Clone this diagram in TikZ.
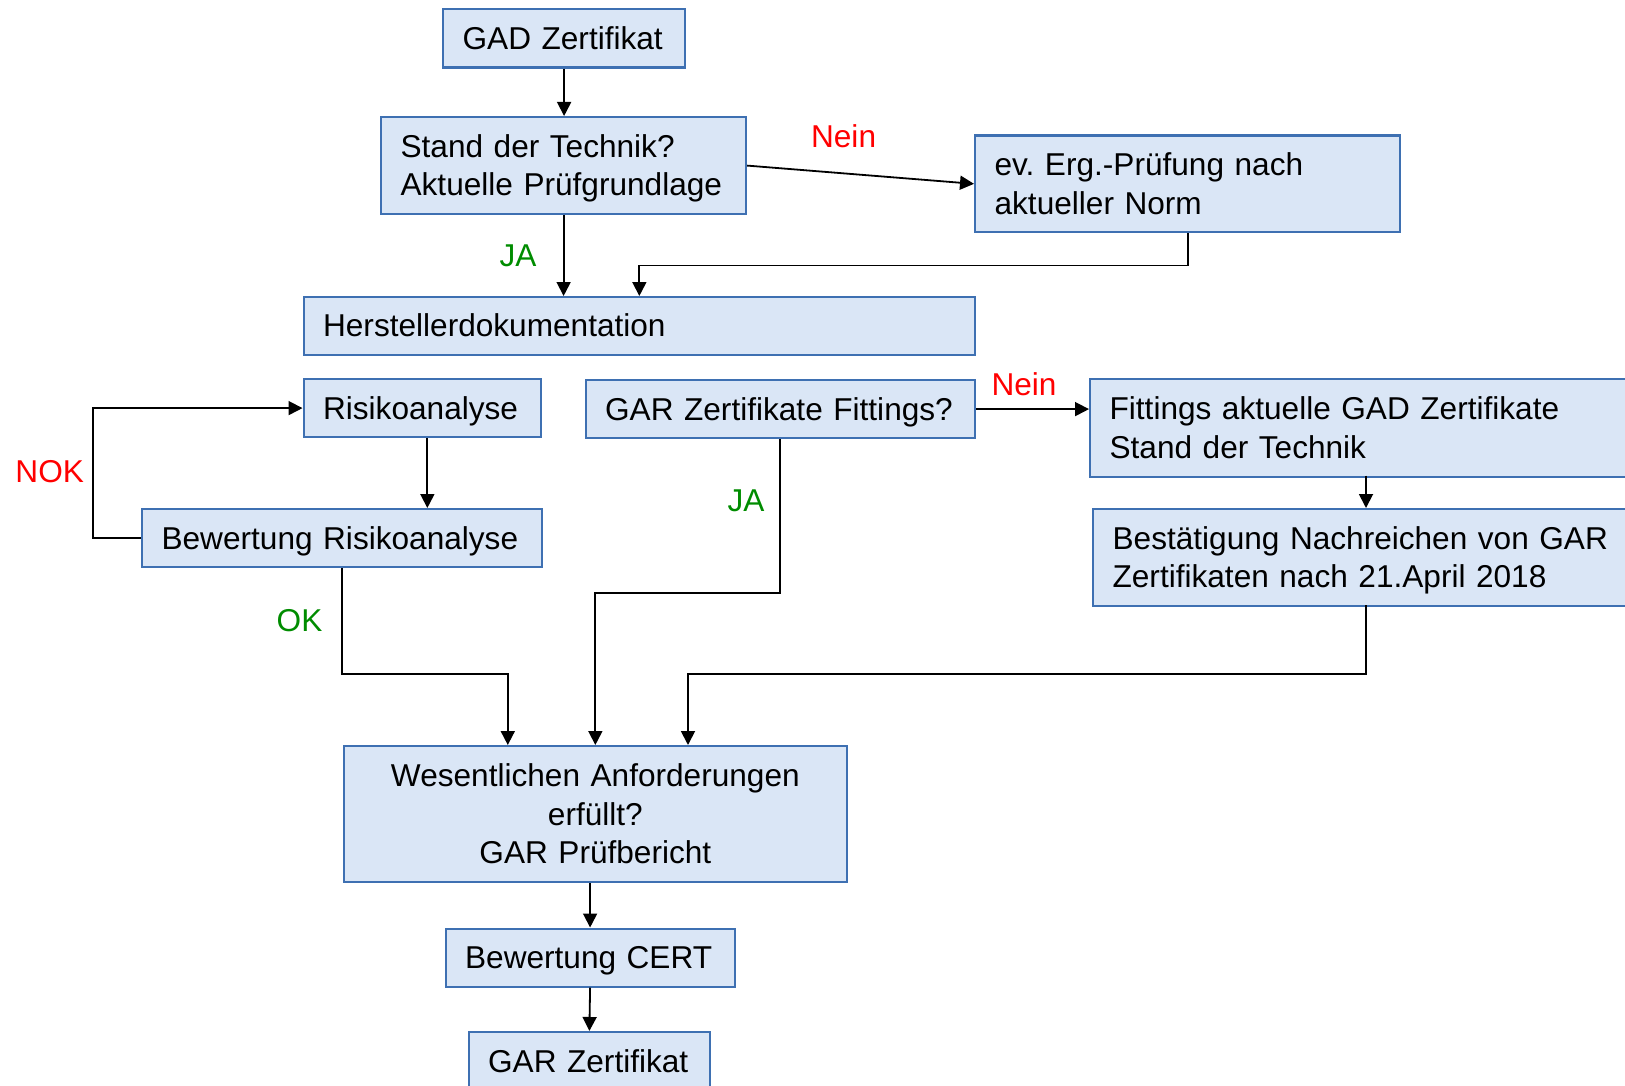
\documentclass[tikz,border=0pt]{standalone}
\usepackage{fontspec}
\setmainfont{Liberation Sans}
\usetikzlibrary{arrows.meta,calc}
\definecolor{boxfill}{RGB}{218,230,246}
\definecolor{boxdraw}{RGB}{62,112,178}
\definecolor{nogo}{RGB}{255,0,0}
\definecolor{go}{RGB}{0,140,0}
\newcommand{\ps}{\rule[-6.8pt]{0pt}{35.7pt}}
\frenchspacing
\begin{document}
\begin{tikzpicture}[x=1pt,y=-1pt,
  every node/.style={font=\fontsize{31.6}{38.3}\selectfont},
  box/.style={draw=boxdraw, fill=boxfill, line width=2.2pt, rectangle, anchor=north west, inner xsep=19.5pt, inner ysep=0pt, align=left},
  conn/.style={line width=1.8pt, -{Triangle[length=14pt,width=14pt]}},
  lab/.style={inner sep=0pt}
]
\useasboundingbox (0,0) rectangle (1625,1086);
\clip (0,0) rectangle (1625,1086);

% boxes
\node[box, minimum width=242pt, minimum height=58.5pt, text width=203pt] (gad) at (442,8) {\mbox{\ps GAD Zertifikat}};
\node[box, minimum width=365pt, minimum height=97pt, text width=326pt] (stand) at (380,116) {\mbox{\ps Stand der Technik?}\\\mbox{\ps Aktuelle Prüfgrundlage}};
\node[box, minimum width=425pt, minimum height=96.5pt, text width=386pt] (erg) at (974,134.5) {\mbox{\ps ev. Erg.-Prüfung nach}\\\mbox{\ps aktueller Norm}};
\node[box, minimum width=671.5pt, minimum height=57.5pt, text width=632.5pt] (herst) at (302.5,296) {\mbox{\ps Herstellerdokumentation}};
\node[box, minimum width=237.5pt, minimum height=58pt, text width=198.5pt] (risiko) at (302.5,378) {\mbox{\ps Risikoanalyse}};
\node[box, minimum width=400pt, minimum height=58pt, text width=361pt] (bewrisk) at (141,508) {\mbox{\ps Bewertung Risikoanalyse}};
\node[box, minimum width=389.5pt, minimum height=58pt, text width=350.5pt] (garfit) at (584.5,379) {\mbox{\ps GAR Zertifikate Fittings?}};
\node[box, minimum width=551pt, minimum height=97.5pt, text width=512pt] (fitakt) at (1089,378) {\mbox{\ps Fittings aktuelle GAD Zertifikate}\\\mbox{\ps Stand der Technik}};
\node[box, minimum width=548pt, minimum height=97pt, text width=509pt] (best) at (1092,508) {\mbox{\ps Bestätigung Nachreichen von GAR}\\\mbox{\ps Zertifikaten nach 21.April 2018}};
\node[box, minimum width=502.5pt, minimum height=136pt, text width=463.5pt, align=center] (wes) at (343,745) {\mbox{\ps Wesentlichen Anforderungen}\\\mbox{\ps erfüllt?}\\\mbox{\ps GAR Prüfbericht}};
\node[box, minimum width=289pt, minimum height=58pt, text width=250pt] (cert) at (444.5,927.5) {\mbox{\ps Bewertung CERT}};
\node[box, minimum width=241.5pt, minimum height=58pt, text width=202.5pt] (garz) at (467.5,1031) {\mbox{\ps GAR Zertifikat}};

% helper coordinates
\coordinate (j1) at (507.8,673.6);
\coordinate (j2) at (688,673.6);
\coordinate (f1) at (1366,475.5);
\coordinate (f2) at (1366,605);

% connectors
\draw[conn] (gad.south) -- (gad.south |- stand.north);
\draw[conn] (stand.east) -- (erg.west);
\draw[conn] (stand.south) -- (stand.south |- herst.north);
\draw[conn] (erg.south) -- ++(0,32.2) -| (herst.north);
\draw[conn] ([xshift=5pt]risiko.south) -- ([xshift=5pt]risiko.south |- bewrisk.north);
\draw[conn] (bewrisk.west) -- ++(-48,0) |- (risiko.west);
\draw[conn] (bewrisk.south) |- (j1) -- (j1 |- wes.north);
\draw[conn] (garfit.south) -- ++(0,153.7) -| (wes.north);
\draw[conn] (garfit.east) -- (garfit.east -| fitakt.west);
\draw[conn] (f1) -- (f1 |- best.north);
\draw[conn] (f2) |- (j2) -- (j2 |- wes.north);
\draw[conn] (cert.north |- wes.south) -- (cert.north);
\draw[conn] (cert.south) -- (garz.north);

% labels
\node[lab, text=nogo] (l1) at (843.6,136.8) {\ps Nein};
\node[lab, text=go] (l2) at (518,255) {\ps JA};
\node[lab, text=nogo] (l3) at (1024,384.5) {\ps Nein};
\node[lab, text=go] (l4) at (746,500.6) {\ps JA};
\node[lab, text=nogo] (l5) at (49.7,471.5) {\ps NOK};
\node[lab, text=go] (l6) at (299.5,620.8) {\ps OK};
\end{tikzpicture}
\end{document}
